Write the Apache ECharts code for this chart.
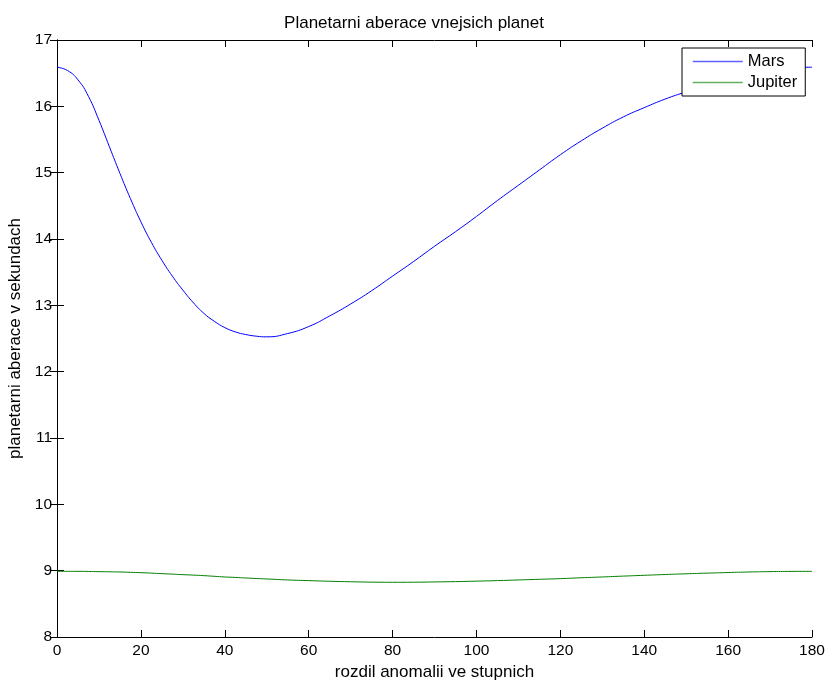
<!DOCTYPE html>
<html>
<head>
<meta charset="utf-8">
<script src="https://cdn.jsdelivr.net/npm/echarts@6/dist/echarts.min.js"></script>
<style>
  html, body { margin: 0; padding: 0; background: #fff; }
  #main { width: 828px; height: 682px; }
</style>
</head>
<body>
<div id="main"></div>
<script>
  // rozdil anomalii (stupne)
  var degrees = [0, 2.5, 5, 7.5, 10, 12.5, 15, 17.5, 20, 22.5, 25, 27.5, 30, 32.5, 35, 37.5, 40, 42.5, 45, 47.5,
    50, 55, 60, 65, 70, 75, 80, 85, 90, 95, 100, 105, 110, 115, 120, 125, 130, 135, 140, 145,
    150, 155, 160, 165, 170, 175, 180];
  var marsValues = [16.59, 16.54, 16.40, 16.15, 15.79, 15.39, 14.99, 14.61, 14.26, 13.95, 13.68, 13.44,
    13.23, 13.04, 12.88, 12.76, 12.665, 12.60, 12.56, 12.535,
    12.525, 12.575, 12.68, 12.84, 13.02, 13.22, 13.44, 13.66, 13.89, 14.11, 14.34, 14.58, 14.81, 15.04,
    15.27, 15.48, 15.67, 15.84, 15.98, 16.11, 16.22, 16.33, 16.42, 16.49, 16.54, 16.58, 16.59];
  var jupiterValues = [8.99, 8.99, 8.99, 8.988, 8.985, 8.983, 8.98, 8.975, 8.97, 8.963, 8.955, 8.948,
    8.94, 8.933, 8.925, 8.915, 8.905, 8.898, 8.89, 8.882,
    8.875, 8.86, 8.85, 8.84, 8.833, 8.827, 8.825, 8.826, 8.83, 8.835, 8.842, 8.85, 8.86, 8.87,
    8.88, 8.893, 8.905, 8.918, 8.93, 8.942, 8.953, 8.963, 8.972, 8.98, 8.986, 8.989, 8.99];
  var seriesNames = ['Mars', 'Jupiter'];
  var seriesColors = ['#0000ff', '#008000'];
  var legendColors = ['#6060ff', '#60b060'];

  var font = 'Liberation Sans, Arial, sans-serif';
  var chart = echarts.init(document.getElementById('main'));

  function pairs(vals) {
    return degrees.map(function (d, i) { return [d, vals[i]]; });
  }

  var tick = { show: true, inside: true, length: 7, lineStyle: { color: '#000', width: 1 } };
  var axisLine = { show: true, lineStyle: { color: '#000', width: 1 } };

  var option = {
    animation: false,
    backgroundColor: '#fff',
    title: {
      text: 'Planetarni aberace vnejsich planet',
      left: 'center',
      top: 10,
      textStyle: { fontFamily: font, fontSize: 17, fontWeight: 'normal', color: '#000' }
    },
    legend: {
      data: seriesNames.map(function (n, i) {
        return { name: n, lineStyle: { color: legendColors[i], width: 1.5 } };
      }),
      orient: 'vertical',
      left: 682,
      top: 48,
      padding: [5, 8, 5, 10],
      itemGap: 4,
      itemWidth: 50,
      itemHeight: 14,
      itemStyle: { opacity: 0 },
      backgroundColor: '#fff',
      borderColor: '#000',
      borderWidth: 1,
      textStyle: { fontFamily: font, fontSize: 16.5, color: '#000' }
    },
    grid: { left: 57, right: 16, top: 40, bottom: 45, outerBoundsMode: 'none' },
    xAxis: [{
      type: 'value',
      min: 0, max: 180, interval: 20,
      name: 'rozdil anomalii ve stupnich',
      nameLocation: 'middle',
      nameGap: 26,
      nameTextStyle: { fontFamily: font, fontSize: 17, color: '#000' },
      axisLine: axisLine,
      axisTick: tick,
      splitLine: { show: false },
      axisLabel: { fontFamily: font, fontSize: 15.5, color: '#000', margin: 6 }
    }, {
      type: 'value',
      position: 'top',
      min: 0, max: 180, interval: 20,
      axisLine: axisLine,
      axisTick: tick,
      splitLine: { show: false },
      axisLabel: { show: false }
    }],
    yAxis: [{
      type: 'value',
      min: 8, max: 17, interval: 1,
      name: 'planetarni aberace v sekundach',
      nameLocation: 'middle',
      nameGap: 30,
      nameTextStyle: { fontFamily: font, fontSize: 17, color: '#000' },
      axisLine: axisLine,
      axisTick: tick,
      splitLine: { show: false },
      axisLabel: { fontFamily: font, fontSize: 15.5, color: '#000', margin: 5 }
    }, {
      type: 'value',
      position: 'right',
      min: 8, max: 17, interval: 1,
      axisLine: axisLine,
      axisTick: tick,
      splitLine: { show: false },
      axisLabel: { show: false }
    }],
    series: [{
      name: seriesNames[0],
      type: 'line',
      data: pairs(marsValues),
      smooth: true,
      symbol: 'none',
      color: seriesColors[0],
      lineStyle: { color: seriesColors[0], width: 1 }
    }, {
      name: seriesNames[1],
      type: 'line',
      data: pairs(jupiterValues),
      smooth: true,
      symbol: 'none',
      color: seriesColors[1],
      lineStyle: { color: seriesColors[1], width: 1 }
    }]
  };

  chart.setOption(option);
</script>
</body>
</html>
